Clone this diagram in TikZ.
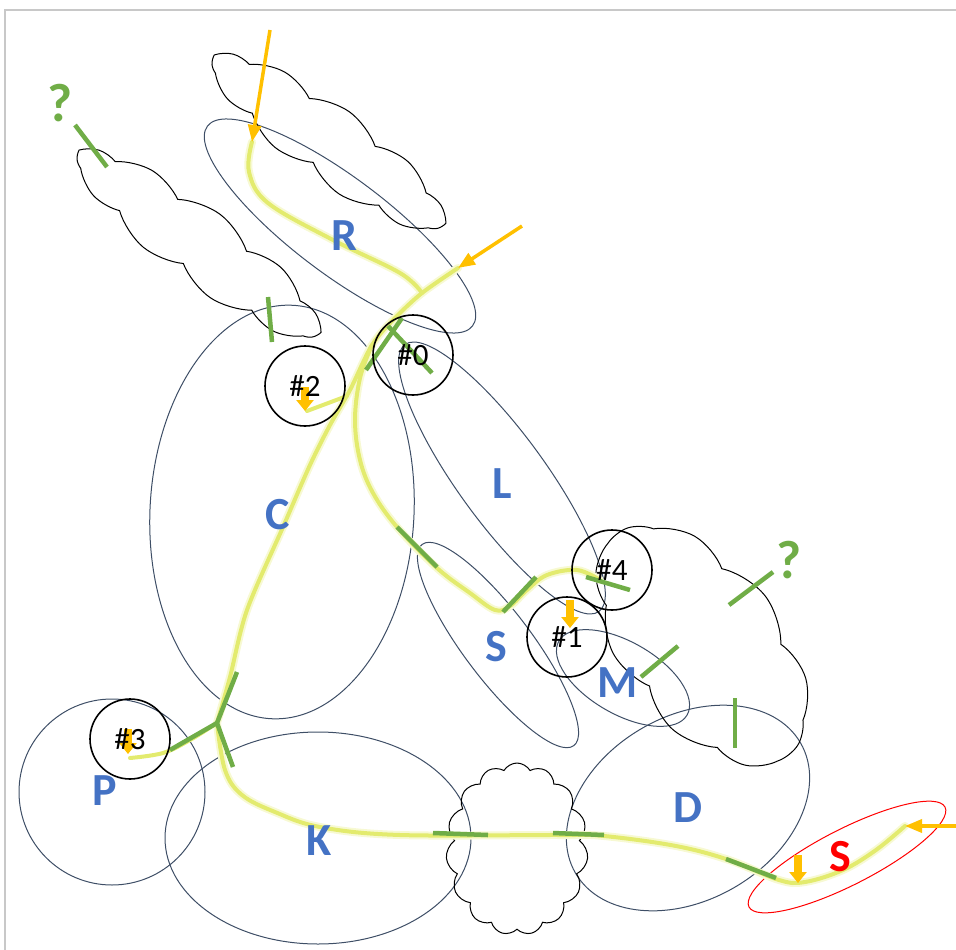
\documentclass[tikz,border=0pt]{standalone}
\usepackage{fontspec}
\setmainfont{Carlito}
\usetikzlibrary{shapes.symbols,arrows.meta}
\definecolor{rim}{HTML}{3E4E66}
\definecolor{lemon}{HTML}{E3EB6E}
\definecolor{leaf}{HTML}{70AD47}
\definecolor{amber}{HTML}{FFC000}
\definecolor{letter}{HTML}{4472C4}
\definecolor{frame}{HTML}{C8C8C8}
\begin{document}
\begin{tikzpicture}[x=1pt,y=-1pt,
  blob/.style={draw=rim, line width=1pt},
  way/.style={draw=lemon, line width=4pt, line cap=round, line join=round},
  halo/.style={draw=lemon!30, line width=8pt, line cap=round, line join=round},
  tick/.style={draw=leaf, line width=4.5pt},
  flow/.style={draw=amber, line width=3.5pt, -{Triangle[length=17pt,width=13pt]}},
  drop/.style={draw=amber, line width=8pt, -{Triangle[length=11pt,width=17pt]}},
  site/.style={circle, draw, line width=1.6pt, minimum size=80pt, inner sep=0pt, font=\fontsize{31}{33}\selectfont},
  tag/.style={text=letter, font=\fontsize{46}{50}\selectfont\bfseries},
  ask/.style={text=leaf, font=\fontsize{54}{58}\selectfont\bfseries},
  puff/.style={cloud, draw, line width=1pt, inner sep=0pt}]
\useasboundingbox (0,0) rectangle (956,950);
\draw[frame, line width=1.2pt] (5,950) -- (5,10) -- (956,10);

\draw[blob, rotate around={-37:(340,226)}] (340,226) ellipse [x radius=166pt, y radius=48pt];
\draw[blob, rotate around={-3:(282,512)}] (282,512) ellipse [x radius=132pt, y radius=207pt];
\draw[blob, rotate around={-54:(502,478)}] (502,478) ellipse [x radius=165pt, y radius=44pt];
\draw[blob, rotate around={-53:(498,645)}] (498,645) ellipse [x radius=126pt, y radius=34pt];
\draw[blob, rotate around={-30:(623,678)}] (623,678) ellipse [x radius=74pt, y radius=36pt];
\draw[blob] (112,792) circle [radius=93pt];
\draw[blob] (318,838) ellipse [x radius=153pt, y radius=106pt];
\draw[blob, rotate around={30:(688,808)}] (688,808) ellipse [x radius=130pt, y radius=92pt];
\draw[red, line width=1pt, rotate around={27:(847,857)}] (847,857) ellipse [x radius=110pt, y radius=28pt];

\node[puff, cloud puffs=11, cloud puff arc=70, aspect=3.8, minimum width=282pt, minimum height=74pt, rotate=-36] (cloudR) at (328,142) {};
\node[puff, cloud puffs=11, cloud puff arc=70, aspect=3.8, minimum width=298pt, minimum height=74pt, rotate=-37] (cloudC) at (198,244) {};
\node[puff, cloud puffs=9, cloud puff arc=80, aspect=1.7, minimum width=280pt, minimum height=160pt, rotate=-52] (cloudM) at (702,645) {};
\node[puff, cloud puffs=15, cloud puff arc=120, aspect=0.85, minimum width=142pt, minimum height=172pt] (cloudK) at (517,849) {};

\coordinate (inR) at (270,30);
\coordinate (topR) at (252,142);
\coordinate (inE) at (522,226);
\coordinate (hubE) at (458,268);
\coordinate (hub) at (422,293);
\coordinate (fork) at (372,345);
\coordinate (jn) at (217,723);
\coordinate (inS) at (956,826);
\coordinate (endS) at (905,826);

\draw[halo] plot[smooth, tension=0.6] coordinates {(topR) (249,172) (268,203) (333,240) (400,273) (hub)};
\draw[halo] plot[smooth, tension=0.5] coordinates {(hubE) (hub) (395,318) (fork) (350,390) (330,425) (310,465) (283,527) (247,610) (230,677) (jn)};
\draw[halo] plot[smooth, tension=0.6] coordinates {(fork) (360,378) (355,420) (360,460) (373,493) (397,527) (437,568) (470,593) (495,610) (510,606) (527,590) (547,575) (577,570) (600,580)};
\draw[halo] plot[smooth, tension=0.6] coordinates {(jn) (225,770) (242,795) (275,812) (320,827) (400,835) (560,835) (604,836) (676,846) (729,860) (779,880) (805,882) (843,870) (876,850) (endS)};
\draw[way] plot[smooth, tension=0.6] coordinates {(topR) (249,172) (268,203) (333,240) (400,273) (hub)};
\draw[way] plot[smooth, tension=0.5] coordinates {(hubE) (hub) (395,318) (fork) (350,390) (330,425) (310,465) (283,527) (247,610) (230,677) (jn)};
\draw[way] plot[smooth, tension=0.6] coordinates {(fork) (360,378) (355,420) (360,460) (373,493) (397,527) (437,568) (470,593) (495,610) (510,606) (527,590) (547,575) (577,570) (600,580)};
\draw[way] plot[smooth, tension=0.6] coordinates {(jn) (225,770) (242,795) (275,812) (320,827) (400,835) (560,835) (604,836) (676,846) (729,860) (779,880) (805,882) (843,870) (876,850) (endS)};
\draw[way] (347,396) -- (307,411);
\draw[way] plot[smooth, tension=0.6] coordinates {(jn) (190,740) (163,753) (130,758)};

\draw[tick] (75,125) -- (107,167);
\draw[tick] (268,297) -- (272,342);
\draw[tick] (366,370) -- (402,318);
\draw[tick] (388,326) -- (432,373);
\draw[tick] (397,527) -- (437,567);
\draw[tick] (503,612) -- (536,577);
\draw[tick] (586,577) -- (630,590);
\draw[tick] (729,605) -- (773,572);
\draw[tick] (641,677) -- (678,646);
\draw[tick] (735,698) -- (735,748);
\draw[tick] (433,833) -- (488,835);
\draw[tick] (553,833) -- (604,835);
\draw[tick] (726,859) -- (776,878);
\draw[tick] (237,672) -- (jn) -- (233,767);
\draw[tick] (jn) -- (170,750);

\draw[flow] (inR) -- (topR);
\draw[flow] (inE) -- (hubE);
\draw[flow] (inS) -- (endS);
\draw[drop] (305,387) -- (305,411);
\draw[drop] (570,600) -- (570,628);
\draw[drop] (128,729) -- (128,754);
\draw[drop] (798,855) -- (798,883);

\node[site] (s0) at (413,355) {\#0};
\node[site] (s1) at (567,637) {\#1};
\node[site] (s2) at (305,386) {\#2};
\node[site] (s3) at (130,739) {\#3};
\node[site] (s4) at (612,570) {\#4};

\node[tag] (tR) at (344,236) {R};
\node[tag] (tC) at (278,515) {C};
\node[tag] (tL) at (502,484) {L};
\node[tag] (tS) at (496,647) {S};
\node[tag] (tM) at (618,683) {M};
\node[tag] (tP) at (105,791) {P};
\node[tag] (tK) at (319,841) {K};
\node[tag] (tD) at (688,808) {D};
\node[tag, text=red] (tSr) at (840,857) {S};
\node[ask] (q1) at (60,103) {?};
\node[ask] (q2) at (789,560) {?};
\end{tikzpicture}
\end{document}
